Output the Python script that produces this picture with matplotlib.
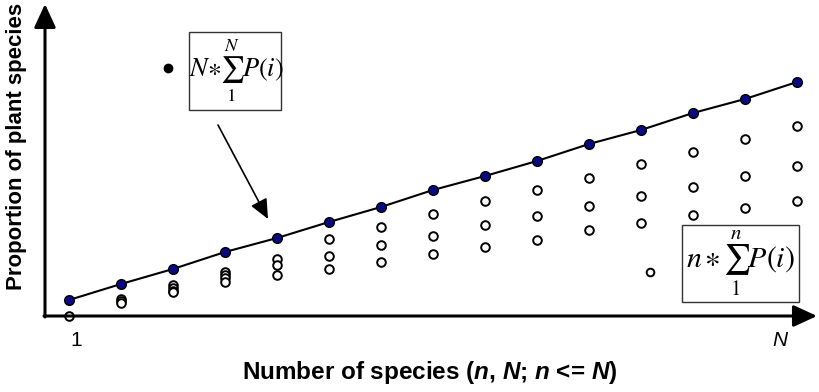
import matplotlib
matplotlib.use("Agg")
import matplotlib.pyplot as plt
from matplotlib.patches import Rectangle, FancyArrowPatch
from matplotlib.lines import Line2D

plt.rcParams['font.family'] = ['Liberation Sans', 'DejaVu Sans']
plt.rcParams['mathtext.fontset'] = 'custom'
plt.rcParams['mathtext.it'] = 'Liberation Sans:italic:bold'
plt.rcParams['mathtext.rm'] = 'Liberation Sans:bold'
plt.rcParams['mathtext.bf'] = 'Liberation Sans:bold'

# ---- data ----
species_n = list(range(1, 16))
total_values = [0.16, 0.32, 0.47, 0.64, 0.78, 0.94, 1.09, 1.26, 1.40, 1.55,
                1.72, 1.86, 2.03, 2.17, 2.34]
subset_values = [
    [0.0],
    [0.17, 0.15, 0.13],
    [0.31, 0.28, 0.25, 0.24],
    [0.44, 0.41, 0.38, 0.34],
    [0.57, 0.51, 0.41],
    [0.77, 0.60, 0.47],
    [0.89, 0.71, 0.54],
    [1.02, 0.80, 0.62],
    [1.15, 0.91, 0.69],
    [1.26, 1.00, 0.76],
    [1.38, 1.10, 0.86],
    [1.52, 1.20, 0.93],
    [1.64, 1.29, 1.01],
    [1.77, 1.40, 1.08],
    [1.90, 1.50, 1.15],
]
x_tick_labels = ["1", "N"]
x_label = r"Number of species ($n$, $N$; $n$ <= $N$)"
y_label = "Proportion of plant species"

W, H = 819, 392
fig = plt.figure(figsize=(W / 100, H / 100), dpi=100)

def fx(px):
    return px / W

def fy(py):
    return 1 - py / H

ax_left, ax_right, ax_top, ax_bot = 45, 815, 5, 316
ax = fig.add_axes([fx(ax_left), fy(ax_bot), fx(ax_right - ax_left), (ax_bot - ax_top) / H])
ax.set_xlim(1 - 24 / 52, 15 + 18 / 52)
ax.set_ylim(0, 3.11)
ax.axis('off')

# axes with arrows
axis_arrow = '-|>,head_length=0.65,head_width=0.3'
fig.add_artist(FancyArrowPatch(
    (fx(ax_left - 1), fy(ax_bot)), (fx(ax_right + 2), fy(ax_bot)),
    transform=fig.transFigure, arrowstyle=axis_arrow,
    mutation_scale=22, lw=2.2, color='black', shrinkA=0, shrinkB=0))
fig.add_artist(FancyArrowPatch(
    (fx(ax_left), fy(ax_bot + 1)), (fx(ax_left), fy(ax_top - 1)),
    transform=fig.transFigure, arrowstyle=axis_arrow,
    mutation_scale=22, lw=2.2, color='black', shrinkA=0, shrinkB=0))

# open circles
for n, vals in zip(species_n, subset_values):
    ax.plot([n] * len(vals), vals, linestyle='none', marker='o', markersize=6.2,
            markerfacecolor='white', markeredgecolor='black', markeredgewidth=1.4,
            clip_on=False, zorder=5)

# line and filled points
ax.plot(species_n, total_values, color='black', lw=1.5, zorder=3)
ax.plot(species_n, total_values, linestyle='none', marker='o', markersize=7,
        markerfacecolor='#0a0a80', markeredgecolor='black', markeredgewidth=1.0,
        zorder=6)

# tick labels
fig.text(fx(76), fy(341), x_tick_labels[0], ha='center', va='center', fontsize=15)
fig.text(fx(780), fy(341), x_tick_labels[1], ha='center', va='center', fontsize=15,
         fontstyle='italic')

# axis labels
fig.text(fx(430), fy(373), x_label, ha='center', va='center', fontsize=17.5,
         fontweight='bold')
fig.text(fx(17), fy(146), y_label, ha='center', va='center', fontsize=16,
         fontweight='bold', rotation=90)

# legend boxes
fig.add_artist(Rectangle((fx(189), fy(110)), fx(281 - 189), (110 - 32) / H,
                         transform=fig.transFigure, fill=False, ec='#333333', lw=1.0))
fig.text(fx(236), fy(71), r'$N{\ast}\sum_{1}^{N}P(i)$', ha='center', va='center',
         fontsize=19, math_fontfamily='stix')
fig.add_artist(Rectangle((fx(682), fy(302)), fx(799 - 682), (302 - 225) / H,
                         transform=fig.transFigure, fill=False, ec='#333333', lw=1.0))
fig.text(fx(740), fy(263), r'$n\,{\ast}\,\sum_{1}^{n}P(i)$', ha='center', va='center',
         fontsize=21.5, math_fontfamily='stix')

# legend markers
fig.add_artist(Line2D([fx(168)], [fy(68)], marker='o', markersize=6,
                      color='black', transform=fig.transFigure))
fig.add_artist(Line2D([fx(650)], [fy(272)], marker='o', markersize=5.5,
                      markerfacecolor='white', markeredgecolor='black',
                      markeredgewidth=1.4, transform=fig.transFigure))

# pointer arrow
fig.add_artist(FancyArrowPatch(
    (fx(218), fy(125)), (fx(268), fy(219)), transform=fig.transFigure,
    arrowstyle='-|>,head_length=0.6,head_width=0.27', mutation_scale=20, lw=1.2,
    color='black', shrinkA=0, shrinkB=0))

fig.savefig('out.png', dpi=100)
